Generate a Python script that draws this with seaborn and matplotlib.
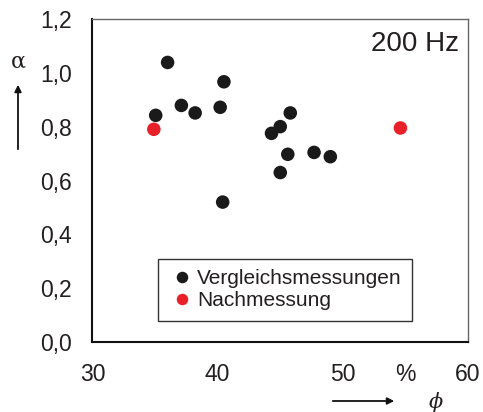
import matplotlib
matplotlib.use("Agg")
import matplotlib.pyplot as plt
import seaborn as sns
import pandas as pd

# Data
phi_vergleich = [36.0, 40.5, 37.1, 38.2, 40.2, 35.05, 45.8, 45.0, 44.3, 45.6, 47.7, 49.0, 45.0, 40.4]
alpha_vergleich = [1.04, 0.968, 0.880, 0.852, 0.873, 0.843, 0.852, 0.801, 0.776, 0.698, 0.705, 0.689, 0.630, 0.520]
phi_nach = [34.9, 54.6]
alpha_nach = [0.791, 0.796]
series_names = ["Vergleichsmessungen", "Nachmessung"]
series_colors = ["#1a1a1a", "#e8202a"]
x_ticks = [30, 40, 50, 60]
x_tick_labels = ["30", "40", "50", "60"]
y_ticks = [0.0, 0.2, 0.4, 0.6, 0.8, 1.0, 1.2]
y_tick_labels = ["0,0", "0,2", "0,4", "0,6", "0,8", "1,0", "1,2"]

df = pd.DataFrame({
    "phi": phi_vergleich + phi_nach,
    "alpha": alpha_vergleich + alpha_nach,
    "serie": [series_names[0]] * len(phi_vergleich) + [series_names[1]] * len(phi_nach),
})

sns.set_theme(style="white")
plt.rcParams["font.family"] = ["Liberation Sans", "DejaVu Sans"]
txt = "#231f20"

fig = plt.figure(figsize=(4.83, 4.12), dpi=100)
ax = fig.add_axes([0.1915, 0.1706, 0.7775, 0.7821])

sns.scatterplot(data=df, x="phi", y="alpha", hue="serie", hue_order=series_names,
                palette=series_colors, s=95, linewidth=0, ax=ax, legend=True)

ax.set_xlim(30, 60)
ax.set_ylim(0, 1.2)
ax.set_xticks(x_ticks)
ax.set_xticklabels(x_tick_labels)
ax.set_xticks([55], minor=True)
ax.set_xticklabels(["%"], minor=True)
ax.set_yticks(y_ticks)
ax.set_yticklabels(y_tick_labels)
ax.tick_params(axis="both", which="major", direction="in", length=5, width=1,
               colors="#222222", labelcolor=txt, labelsize=16.5, pad=15)
ax.tick_params(axis="x", which="minor", length=0, labelcolor=txt, labelsize=16.5, pad=15)
ax.set_xlabel("")
ax.set_ylabel("")

for side in ["left", "bottom"]:
    ax.spines[side].set_color("#111111")
    ax.spines[side].set_linewidth(1.5)
for side in ["top", "right"]:
    ax.spines[side].set_color("#666666")
    ax.spines[side].set_linewidth(1.0)
    ax.spines[side].set_visible(True)

ax.text(0.975, 0.965, "200 Hz", transform=ax.transAxes, ha="right", va="top",
        fontsize=20, color=txt)

leg = ax.legend(loc="lower center", bbox_to_anchor=(0.513, 0.065), borderaxespad=0,
                fontsize=15, frameon=True, fancybox=False, edgecolor="#333333",
                framealpha=1, handletextpad=0.05, borderpad=0.5, labelspacing=0.15,
                handlelength=1.3, markerscale=0.85)
leg.get_frame().set_linewidth(1.0)
for t in leg.get_texts():
    t.set_color(txt)

# axis labels with arrows
fig.text(18 / 483, 1 - 62 / 412, "α", ha="center", va="center", fontsize=16, color=txt,
         family=["DejaVu Serif"])
fig.add_artist(matplotlib.patches.FancyArrowPatch(
    (18 / 483, 1 - 152 / 412), (18 / 483, 1 - 82 / 412), transform=fig.transFigure,
    arrowstyle="-|>", mutation_scale=10, color="#111111", lw=1.3))
fig.text(436 / 483, 1 - 402 / 412, "ϕ", ha="center", va="center", fontsize=15, color=txt,
         style="italic", family=["DejaVu Serif"])
fig.add_artist(matplotlib.patches.FancyArrowPatch(
    (330 / 483, 1 - 401 / 412), (397 / 483, 1 - 401 / 412), transform=fig.transFigure,
    arrowstyle="-|>", mutation_scale=10, color="#111111", lw=1.3))

fig.savefig("out.png", dpi=100)
